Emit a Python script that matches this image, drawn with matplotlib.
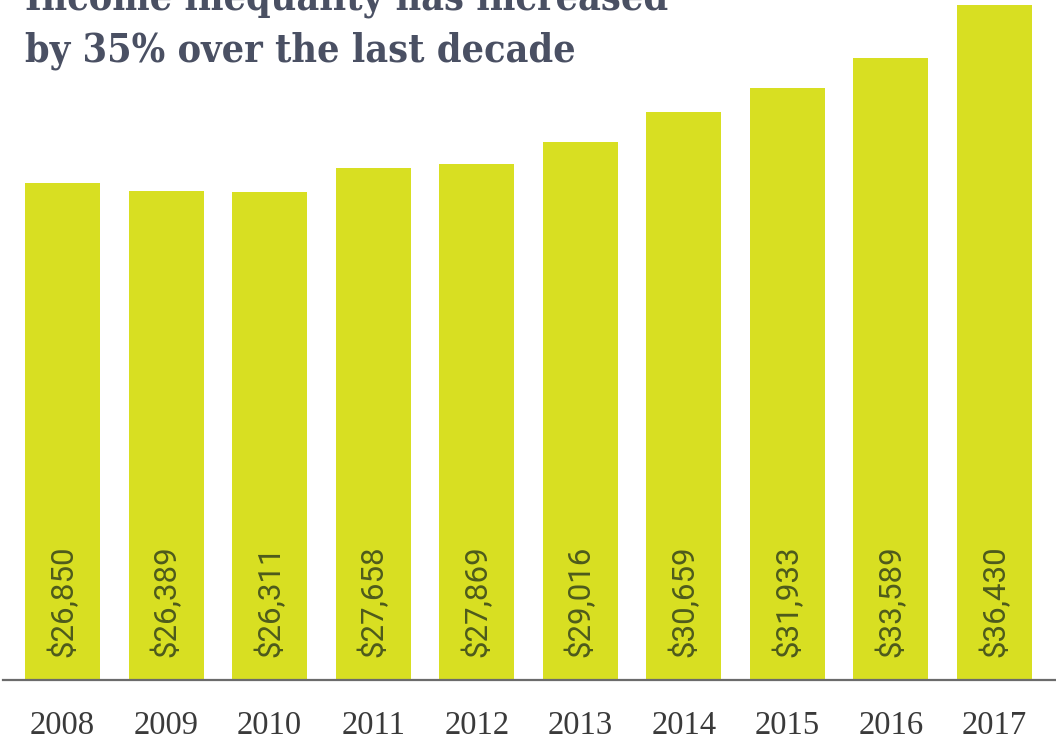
import matplotlib
matplotlib.use("Agg")
import matplotlib.pyplot as plt

years = ["2008", "2009", "2010", "2011", "2012", "2013", "2014", "2015", "2016", "2017"]
values = [26850, 26389, 26311, 27658, 27869, 29016, 30659, 31933, 33589, 36430]
title_line1 = "Income inequality has increased"
title_line2 = "by 35% over the last decade"

W, H = 1056, 740
fig = plt.figure(figsize=(W / 100, H / 100), dpi=100)
fig.patch.set_facecolor("white")

# axes: x from 3px to 1056px, y from 680px (baseline) to 0px
ax = fig.add_axes([3 / W, (H - 680) / H, (W - 3) / W, 680 / H])
ax.set_facecolor("none")

xs = list(range(len(years)))
bar_color = "#d8df22"
ax.bar(xs, values, width=0.724, color=bar_color, zorder=2)

step = 103.56
ax.set_xlim(-59.5 / step, (W - 62.5) / step)
ax.set_ylim(0, max(values) * 680 / 675)

for s in ["top", "right", "left"]:
    ax.spines[s].set_visible(False)
ax.spines["bottom"].set_color("#6b6b6b")
ax.spines["bottom"].set_linewidth(1.6)
ax.spines["bottom"].set_zorder(3)
ax.set_yticks([])
ax.set_xticks(xs)
ax.set_xticklabels([])
ax.tick_params(axis="x", length=0)

for x, y in zip(xs, years):
    ax.text(x, -54 / 680, y, transform=ax.get_xaxis_transform(),
            ha="center", va="baseline", fontsize=23.5, color="#3a3a3a",
            family="Liberation Serif")

for x, v in zip(xs, values):
    ax.text(x, 23 / 680, f"${v:,}", transform=ax.get_xaxis_transform(),
            rotation=90, ha="center", va="bottom", fontsize=22.5,
            color="#4d5a1c", family="Roboto", fontweight="normal", zorder=4)

fig.text(25 / W, 1 - 10 / H, title_line1, ha="left", va="baseline",
         fontsize=28.3, fontweight="bold", family="DejaVu Serif",
         fontstretch="condensed", color="#4a5063")
fig.text(25 / W, 1 - 62 / H, title_line2, ha="left", va="baseline",
         fontsize=28.3, fontweight="bold", family="DejaVu Serif",
         fontstretch="condensed", color="#4a5063")

fig.savefig("out.png", dpi=100)
